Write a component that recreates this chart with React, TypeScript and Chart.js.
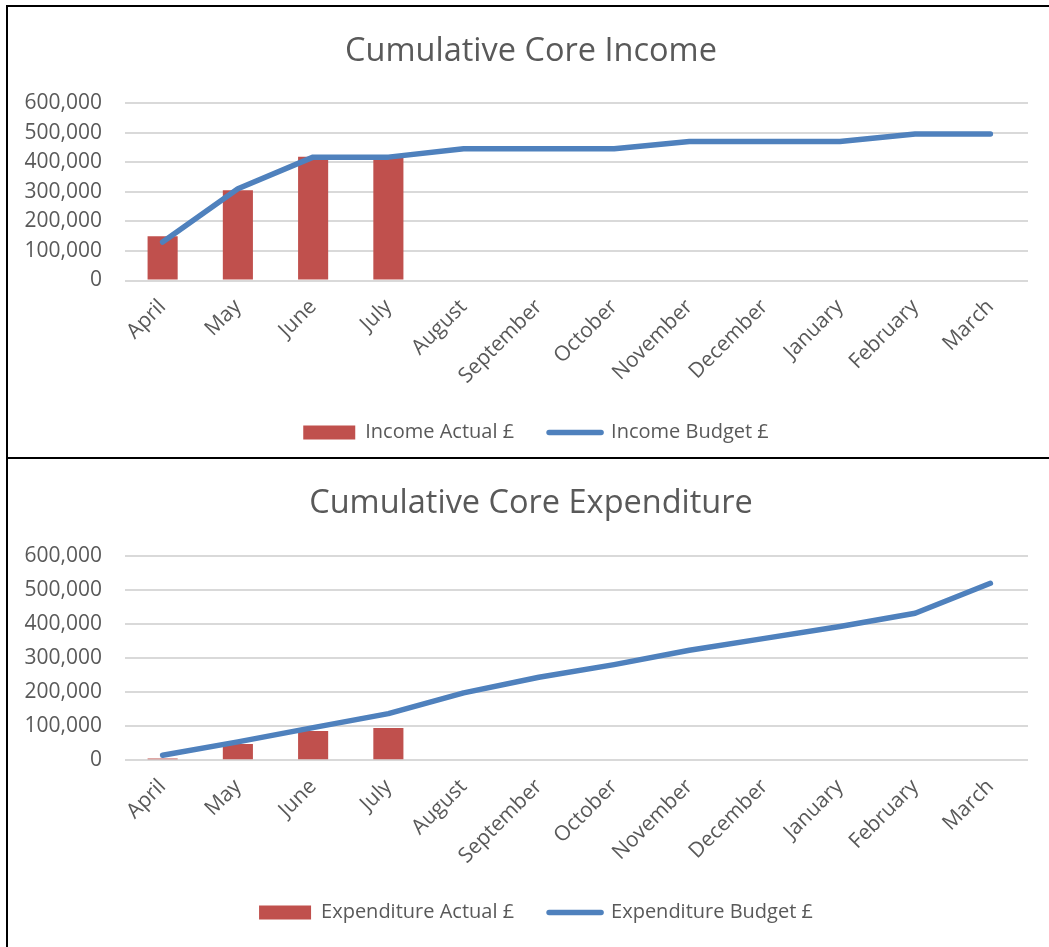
import React, { useEffect, useRef } from "react";
import { Chart, registerables } from "chart.js";

Chart.register(...registerables);

const months = ["April", "May", "June", "July", "August", "September", "October", "November", "December", "January", "February", "March"];
const incomeActual = [150000, 305000, 418000, 416000, null, null, null, null, null, null, null, null];
const incomeBudget = [130000, 310000, 417000, 417000, 445000, 445000, 445000, 470000, 470000, 470000, 495000, 495000];
const expActual = [5000, 48000, 86000, 95000, null, null, null, null, null, null, null, null];
const expBudget = [15000, 54000, 96000, 137000, 198000, 244000, 281000, 323000, 358000, 393000, 432000, 520000];
const yTicks = [0, 100000, 200000, 300000, 400000, 500000, 600000];

const BAR = "#c0504d";
const LINE = "#4f81bd";
const TXT = "#595959";
const GRID = "#d9d9d9";
const FONT = "'Open Sans', 'DejaVu Sans', sans-serif";

const shiftPlugin = {
  id: "shiftBoxes",
  afterLayout(chart: any, _args: any, opts: any) {
    const t = chart.titleBlock;
    if (t && opts.titleDx) { t.left += opts.titleDx; t.right += opts.titleDx; }
    const l = chart.legend;
    if (l && opts.legendDx) { l.left += opts.legendDx; l.right += opts.legendDx; }
  },
};

type Props = {
  title: string;
  barLabel: string;
  lineLabel: string;
  bars: (number | null)[];
  line: number[];
  width: number;
  height: number;
  titlePadTop: number;
  titlePadBottom: number;
  padBottom: number;
  xHeight: number;
};

function ComboChart(p: Props) {
  const ref = useRef<HTMLCanvasElement | null>(null);
  useEffect(() => {
    if (!ref.current) return;
    const chart = new Chart(ref.current, {
      type: "bar",
      data: {
        labels: months,
        datasets: [
          {
            type: "bar",
            label: p.barLabel,
            data: p.bars,
            backgroundColor: BAR,
            borderWidth: 0,
            categoryPercentage: 1,
            barPercentage: 0.4,
            order: 2,
          } as any,
          {
            type: "line",
            label: p.lineLabel,
            data: p.line,
            borderColor: LINE,
            backgroundColor: LINE,
            borderWidth: 5.5,
            borderCapStyle: "round",
            borderJoinStyle: "round",
            pointRadius: 0,
            pointHoverRadius: 0,
            tension: 0,
            order: 1,
          } as any,
        ],
      },
      options: {
        responsive: false,
        animation: false,
        layout: { padding: { left: 0, right: 21, top: 0, bottom: p.padBottom } },
        scales: {
          x: {
            grid: { display: false },
            border: { display: false },
            ticks: { color: TXT, font: { family: FONT, size: 21 }, maxRotation: 45, minRotation: 45, padding: 6, autoSkip: false },
            afterFit: (axis: any) => { axis.height = p.xHeight; },
          },
          y: {
            min: 0,
            max: 600000,
            afterBuildTicks: (axis: any) => { axis.ticks = yTicks.map((v) => ({ value: v })); },
            grid: { color: GRID, lineWidth: 2, drawTicks: false },
            border: { display: false },
            ticks: {
              color: TXT,
              font: { family: FONT, size: 21 },
              padding: 23,
              callback: (v: any) => Number(v).toLocaleString("en-US"),
            },
            afterFit: (axis: any) => { axis.width = 117; },
          },
        },
        plugins: {
          title: {
            display: true,
            text: p.title,
            color: TXT,
            font: { family: FONT, size: 32.5, weight: "normal" as any },
            padding: { top: p.titlePadTop, bottom: p.titlePadBottom },
          },
          legend: {
            position: "bottom",
            labels: {
              color: TXT,
              font: { family: FONT, size: 20 },
              usePointStyle: true,
              pointStyleWidth: 52,
              boxHeight: 14,
              padding: 35,
              generateLabels: (c: any) => {
                const items = (Chart.defaults.plugins.legend.labels as any).generateLabels(c);
                items.sort((a: any, b: any) => a.datasetIndex - b.datasetIndex);
                items.forEach((it: any) => {
                  if (it.datasetIndex === 0) {
                    it.pointStyle = "rect";
                    it.fillStyle = BAR;
                    it.strokeStyle = BAR;
                    it.lineWidth = 0;
                  } else {
                    it.pointStyle = "line";
                    it.fillStyle = LINE;
                    it.strokeStyle = LINE;
                    it.lineWidth = 5.5;
                    it.lineCap = "round";
                  }
                });
                return items;
              },
            },
          },
          tooltip: { enabled: false },
          shiftBoxes: { titleDx: 13, legendDx: 18 },
        } as any,
      },
      plugins: [shiftPlugin as any],
    });
    return () => chart.destroy();
  }, []);
  return <canvas ref={ref} width={p.width} height={p.height} style={{ display: "block" }} />;
}

export default function App() {
  return (
    <div style={{ position: "absolute", left: 0, top: 0, width: 1049, height: 947, overflow: "hidden", background: "#fff" }}>
      <div style={{ position: "absolute", left: 6, top: 5, width: 1100, height: 450, borderLeft: "2px solid #000", borderTop: "2px solid #000" }}>
        <ComboChart
          title="Cumulative Core Income"
          barLabel="Income Actual £"
          lineLabel="Income Budget £"
          bars={incomeActual}
          line={incomeBudget}
          width={1041}
          height={450}
          titlePadTop={25.5}
          titlePadBottom={31.5}
          padBottom={4.5}
          xHeight={107}
        />
      </div>
      <div style={{ position: "absolute", left: 6, top: 457, width: 1100, height: 500, borderLeft: "2px solid #000", borderTop: "2px solid #000" }}>
        <ComboChart
          title="Cumulative Core Expenditure"
          barLabel="Expenditure Actual £"
          lineLabel="Expenditure Budget £"
          bars={expActual}
          line={expBudget}
          width={1041}
          height={488}
          titlePadTop={25.5}
          titlePadBottom={32.5}
          padBottom={14.5}
          xHeight={107.2}
        />
      </div>
    </div>
  );
}
